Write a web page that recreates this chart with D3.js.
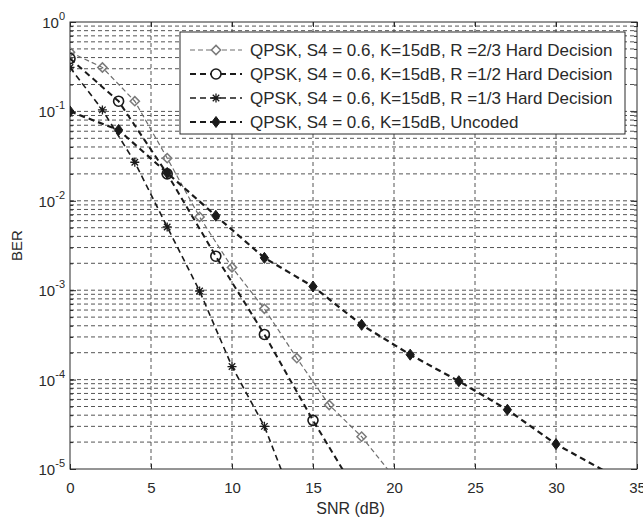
<!DOCTYPE html>
<html>
<head>
<meta charset="utf-8">
<script src="https://cdn.jsdelivr.net/npm/d3@7"></script>
<style>
  html, body { margin: 0; padding: 0; background: #fff; }
  svg { display: block; font-family: "Liberation Sans", Arial, sans-serif; }
</style>
</head>
<body>
<svg id="chart" width="643" height="521"></svg>
<script>
// BER vs SNR for QPSK through a scintillating channel (S4 = 0.6, K = 15 dB)
const snrR23 = [0, 2, 4, 6, 8, 10, 12, 14, 16, 18, 20];
const berR23 = [0.46, 0.31, 0.13, 0.030, 0.0066, 0.0018, 6.2e-4, 1.74e-4, 5.2e-5, 2.3e-5, 8.1e-6];

const snrR12 = [0, 3, 6, 9, 12, 15, 18];
const berR12 = [0.39, 0.13, 0.020, 0.0024, 3.2e-4, 3.5e-5, 4.4e-6];

const snrR13 = [0, 2, 4, 6, 8, 10, 12, 14];
const berR13 = [0.31, 0.104, 0.027, 0.0051, 9.8e-4, 1.4e-4, 3.0e-5, 3.5e-6];

const snrUnc = [0, 3, 6, 9, 12, 15, 18, 21, 24, 27, 30, 33];
const berUnc = [0.1, 0.062, 0.0205, 0.0068, 0.0023, 0.0011, 4.1e-4, 1.9e-4, 9.6e-5, 4.6e-5, 1.9e-5, 9.5e-6];

const seriesNames = [
  "QPSK, S4 = 0.6, K=15dB, R =2/3 Hard Decision",
  "QPSK, S4 = 0.6, K=15dB, R =1/2 Hard Decision",
  "QPSK, S4 = 0.6, K=15dB, R =1/3 Hard Decision",
  "QPSK, S4 = 0.6, K=15dB, Uncoded"
];

const xTicks = [0, 5, 10, 15, 20, 25, 30, 35];
const yDecades = [-5, -4, -3, -2, -1, 0];
const xTitle = "SNR (dB)";
const yTitle = "BER";

// ---- layout ----
const svg = d3.select("#chart");
const L = 70, R = 637, T = 22, B = 469;

const x = d3.scaleLinear().domain([0, 35]).range([L, R]);
const y = d3.scaleLog().domain([1e-5, 1]).range([B, T]);

const ink = "#2a2a2a";

// grid values: every decade plus the 2..9 minors
const minorVals = [];
for (let k = -5; k < 0; k++) for (let m = 1; m <= 9; m++) minorVals.push(m * Math.pow(10, k));
minorVals.push(1);

const grid = svg.append("g");
grid.selectAll("line.h").data(minorVals.filter(v => v > 1.0001e-5 && v < 0.9999))
  .join("line")
  .attr("x1", L).attr("x2", R)
  .attr("y1", d => y(d)).attr("y2", d => y(d))
  .attr("stroke", "#555").attr("stroke-width", 1).attr("stroke-dasharray", "4,3");
grid.selectAll("line.v").data(xTicks.filter(v => v > 0 && v < 35))
  .join("line")
  .attr("y1", T).attr("y2", B)
  .attr("x1", d => x(d)).attr("x2", d => x(d))
  .attr("stroke", "#555").attr("stroke-width", 1).attr("stroke-dasharray", "4,3");

// axes (ticks drawn inward, boxed)
const axB = svg.append("g").attr("transform", `translate(0,${B})`)
  .call(d3.axisBottom(x).tickValues(xTicks).tickSize(-5).tickPadding(13).tickFormat(d3.format("d")));
const axT = svg.append("g").attr("transform", `translate(0,${T})`)
  .call(d3.axisTop(x).tickValues(xTicks).tickSize(-5).tickFormat(""));
const axL = svg.append("g").attr("transform", `translate(${L},0)`)
  .call(d3.axisLeft(y).tickValues(minorVals).tickSize(-3).tickFormat(""));
const axLm = svg.append("g").attr("transform", `translate(${L},0)`)
  .call(d3.axisLeft(y).tickValues(yDecades.map(k => Math.pow(10, k))).tickSize(-6).tickFormat(""));
const axR = svg.append("g").attr("transform", `translate(${R},0)`)
  .call(d3.axisRight(y).tickValues(minorVals).tickSize(-3).tickFormat(""));
const axRm = svg.append("g").attr("transform", `translate(${R},0)`)
  .call(d3.axisRight(y).tickValues(yDecades.map(k => Math.pow(10, k))).tickSize(-6).tickFormat(""));

[axB, axT, axL, axLm, axR, axRm].forEach(g => {
  g.select(".domain").remove();
  g.selectAll(".tick line").attr("stroke", ink);
  g.selectAll("text").attr("fill", ink).attr("font-size", 15)
    .attr("font-family", "'Liberation Sans', Arial, sans-serif");
});

// decade labels 10^k
const yLab = svg.append("g");
yDecades.forEach(k => {
  const t = yLab.append("text")
    .attr("x", 65).attr("y", y(Math.pow(10, k)) + 6)
    .attr("text-anchor", "end").attr("font-size", 15).attr("fill", ink);
  t.append("tspan").text("10");
  t.append("tspan").attr("dy", -8).attr("font-size", 11).text(String(k));
});

// plot box
svg.append("rect").attr("x", L).attr("y", T).attr("width", R - L).attr("height", B - T)
  .attr("fill", "none").attr("stroke", ink).attr("stroke-width", 1);

// axis titles
svg.append("text").attr("x", (L + R) / 2 - 3).attr("y", 514).attr("text-anchor", "middle")
  .attr("font-size", 16).attr("fill", ink).text(xTitle);
svg.append("text").attr("transform", `translate(22,${(T + B) / 2}) rotate(-90)`)
  .attr("text-anchor", "middle").attr("font-size", 15).attr("fill", ink).text(yTitle);

// ---- series ----
svg.append("clipPath").attr("id", "plotClip")
  .append("rect").attr("x", L).attr("y", T).attr("width", R - L).attr("height", B - T);

const markerPath = {
  diamond: s => `M0,${-s}L${s},0L0,${s}L${-s},0Z`,
  star: s => {
    const a = s * 0.72;
    return `M${-s},0L${s},0M0,${-s}L0,${s}M${-a},${-a}L${a},${a}M${-a},${a}L${a},${-a}`;
  },
  circle: s => `M${s},0A${s},${s} 0 1,1 ${-s},0A${s},${s} 0 1,1 ${s},0Z`,
  solid: s => `M0,${-s}L${s * 0.75},0L0,${s}L${-s * 0.75},0Z`
};

const series = [
  { xs: snrR23, ys: berR23, stroke: "#6e6e6e", width: 1.2, dash: "5,3",
    marker: "diamond", msize: 4.6, mstroke: "#7a7a7a", mfill: "none", mwidth: 1.5 },
  { xs: snrR12, ys: berR12, stroke: "#1a1a1a", width: 2, dash: "6,4",
    marker: "circle", msize: 5, mstroke: "#1a1a1a", mfill: "none", mwidth: 1.6 },
  { xs: snrR13, ys: berR13, stroke: "#1a1a1a", width: 1.6, dash: "6,4",
    marker: "star", msize: 4.5, mstroke: "#1a1a1a", mfill: "none", mwidth: 1.3 },
  { xs: snrUnc, ys: berUnc, stroke: "#1a1a1a", width: 2.2, dash: "6,4",
    marker: "solid", msize: 5.5, mstroke: "#1a1a1a", mfill: "#1a1a1a", mwidth: 1 }
];

const line = d3.line().x(d => x(d[0])).y(d => y(d[1]));
const plot = svg.append("g").attr("clip-path", "url(#plotClip)");

series.forEach(s => {
  const pts = s.xs.map((v, i) => [v, s.ys[i]]);
  plot.append("path").datum(pts).attr("d", line)
    .attr("fill", "none").attr("stroke", s.stroke).attr("stroke-width", s.width)
    .attr("stroke-dasharray", s.dash);
  plot.selectAll(null).data(pts.filter(p => p[1] >= 1e-5)).join("path")
    .attr("transform", p => `translate(${x(p[0])},${y(p[1])})`)
    .attr("d", markerPath[s.marker](s.msize))
    .attr("fill", s.mfill).attr("stroke", s.mstroke).attr("stroke-width", s.mwidth);
});

// ---- legend ----
const lg = svg.append("g");
lg.append("rect").attr("x", 180).attr("y", 32).attr("width", 445).attr("height", 102)
  .attr("fill", "#fff").attr("stroke", ink).attr("stroke-width", 1);
const rowY = [50, 74, 98, 122];
series.forEach((s, i) => {
  const yy = rowY[i];
  lg.append("line").attr("x1", 190).attr("x2", 242).attr("y1", yy).attr("y2", yy)
    .attr("stroke", s.stroke).attr("stroke-width", s.width).attr("stroke-dasharray", s.dash);
  lg.append("path").attr("transform", `translate(216,${yy})`)
    .attr("d", markerPath[s.marker](s.msize))
    .attr("fill", s.mfill === "none" ? "#fff" : s.mfill)
    .attr("stroke", s.mstroke).attr("stroke-width", s.mwidth);
  lg.append("text").attr("x", 250).attr("y", yy + 6)
    .attr("font-size", 17).attr("fill", ink).text(seriesNames[i]);
});
</script>
</body>
</html>
